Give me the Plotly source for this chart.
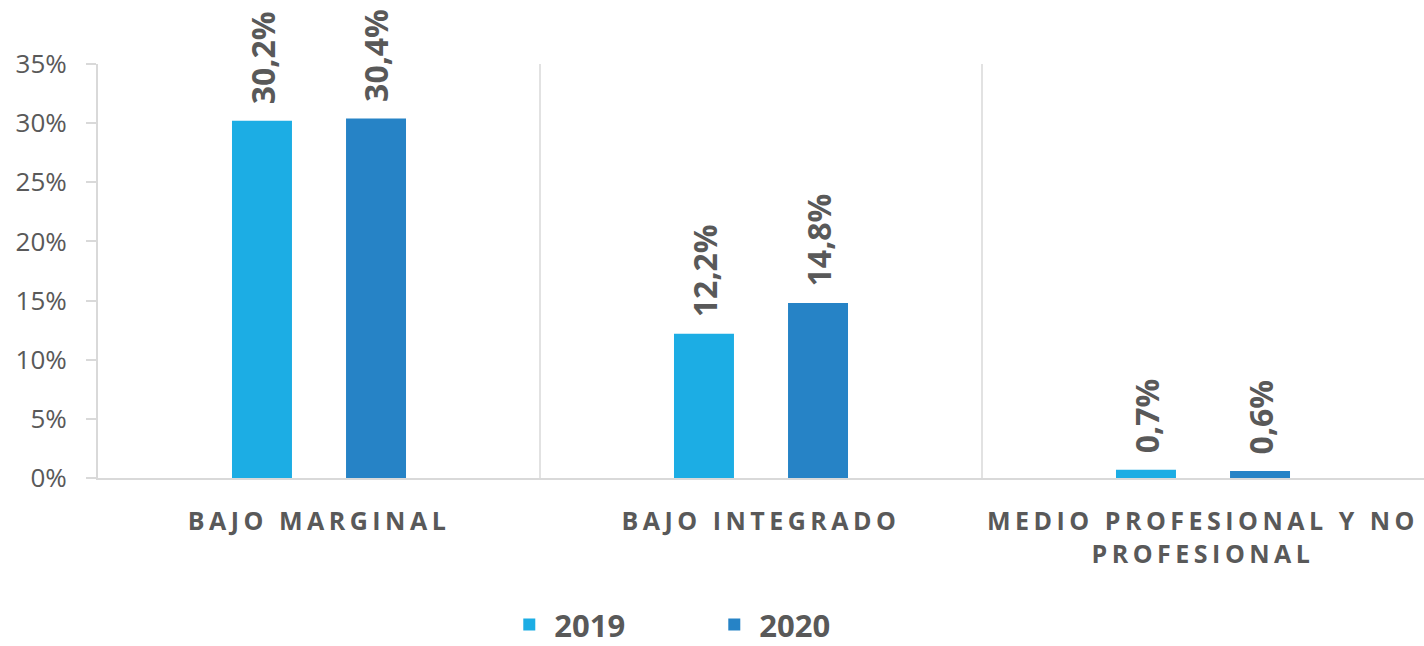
import plotly.graph_objects as go

categories = [
    '<span style="letter-spacing:4.5px">BAJO MARGINAL</span>',
    '<span style="letter-spacing:4.5px">BAJO INTEGRADO</span>',
    '<span style="letter-spacing:4.5px">MEDIO PROFESIONAL Y NO</span><br><span style="letter-spacing:4.5px">PROFESIONAL</span>',
]
series_names = ["2019", "2020"]
values_2019 = [30.2, 12.2, 0.7]
values_2020 = [30.4, 14.8, 0.6]
colors = ["#1CADE4", "#2683C6"]

def fmt(v):
    return f"{v:.1f}%".replace(".", ",")

fig = go.Figure()
for name, vals, col in zip(series_names, [values_2019, values_2020], colors):
    fig.add_trace(go.Bar(
        x=categories, y=vals, name=name,
        marker=dict(color=col, line=dict(width=0)),
        cliponaxis=False,
        hoverinfo="skip",
    ))

# data labels above bars (series offset within group)
for vals, shift in zip([values_2019, values_2020], [-57, 57]):
    for cat, v in zip(categories, vals):
        fig.add_annotation(
            x=cat, y=v, xref="x", yref="y", text=fmt(v), showarrow=False,
            textangle=-90, yanchor="bottom", xanchor="center",
            xshift=shift, yshift=14,
            font=dict(family="Open Sans", size=32, color="#595959", weight="bold"),
        )

for xb in [0.5, 1.5]:
    fig.add_shape(type="line", xref="x", yref="paper", x0=xb, x1=xb, y0=0, y1=1,
                  line=dict(color="#d9d9d9", width=1.5), layer="below")

fig.update_layout(
    width=1424, height=646,
    margin=dict(l=98, r=0, t=64, b=168, autoexpand=False),
    paper_bgcolor="white", plot_bgcolor="white",
    barmode="group", bargap=0.484, bargroupgap=0.474,
    font=dict(family="Open Sans", color="#595959"),
    legend=dict(orientation="h", x=0.461, xanchor="center", y=-0.355, yanchor="middle",
                font=dict(family="Open Sans", size=31, color="#595959", weight="bold"),
                itemwidth=40, entrywidth=150, entrywidthmode="pixels"),
)
fig.update_xaxes(
    showline=True, linecolor="#d9d9d9", linewidth=2, showgrid=False, automargin=False,
    ticks="", tickfont=dict(family="Open Sans", size=25, color="#595959", weight="bold"),
    ticklabelstandoff=20,
)
fig.update_yaxes(
    range=[0, 35], dtick=5, ticksuffix="%", showgrid=False, automargin=False,
    showline=True, linecolor="#d9d9d9", linewidth=2,
    ticks="outside", ticklen=10, tickcolor="#d9d9d9", tickwidth=2,
    tickfont=dict(family="Open Sans", size=26, color="#595959"),
    ticklabelstandoff=14, zeroline=False,
)

fig.write_html(
    "out.html",
    config={"displayModeBar": False},
    post_script="document.body.style.margin='0';document.body.style.overflow='hidden';",
)
